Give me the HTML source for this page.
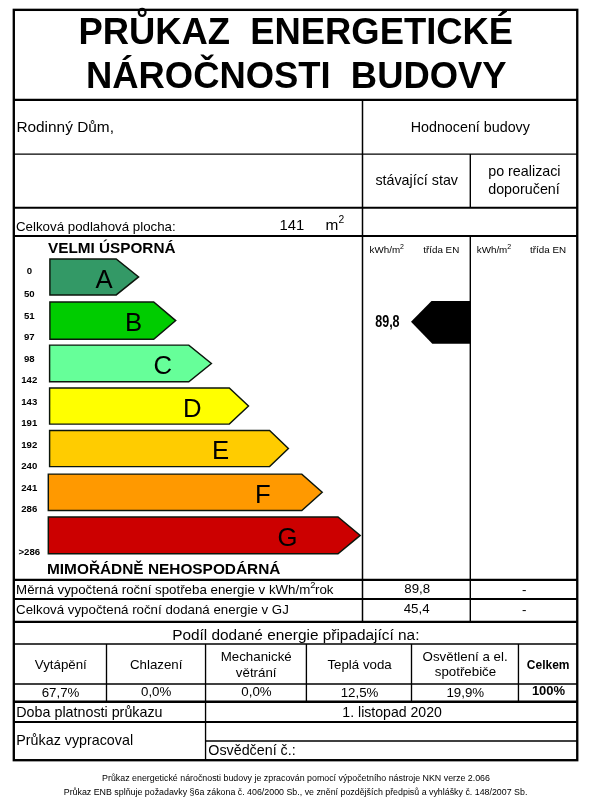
<!DOCTYPE html>
<html lang="cs">
<head>
<meta charset="utf-8">
<title>Průkaz energetické náročnosti budovy</title>
<style>
html,body{margin:0;padding:0;background:#fff;}
body{width:601px;height:800px;overflow:hidden;}
svg{display:block;}
text{font-family:"Liberation Sans",Arial,sans-serif;fill:#000;white-space:pre;}
.b{font-weight:bold;}
.t10{font-size:13.3px;}
.t11{font-size:14.3px;}
.t12{font-size:15.4px;}
.t8{font-size:9.8px;}
.lab{font-size:9.6px;font-weight:bold;text-anchor:middle;}
.let{font-size:25.7px;text-anchor:middle;}
.m{text-anchor:middle;}
.ln line{stroke:#000;}
.ar polygon{stroke:#0c160c;stroke-width:1.45;stroke-linejoin:miter;}
</style>
</head>
<body>
<svg width="601" height="800" viewBox="0 0 601 800">
<rect x="0" y="0" width="601" height="800" fill="#fff"/>

<!-- title -->
<text class="b m" x="295.75" y="44.4" font-size="36.4">PRŮKAZ  ENERGETICKÉ</text>
<text class="b m" x="296.3" y="88.2" font-size="36.4">NÁROČNOSTI  BUDOVY</text>

<!-- grid lines -->
<g class="ln">
<rect x="13.8" y="9.85" width="563.45" height="750.35" fill="none" stroke="#000" stroke-width="2.35"/>
<line x1="13.9" x2="577.3" y1="99.85" y2="99.85" stroke-width="2.2"/>
<line x1="13.9" x2="577.3" y1="154.05" y2="154.05" stroke-width="1.3"/>
<line x1="13.9" x2="577.3" y1="207.8" y2="207.8" stroke-width="2.1"/>
<line x1="13.9" x2="577.3" y1="236" y2="236" stroke-width="2.2"/>
<line x1="13.9" x2="577.3" y1="579.9" y2="579.9" stroke-width="2.3"/>
<line x1="13.9" x2="577.3" y1="599" y2="599" stroke-width="2.1"/>
<line x1="13.9" x2="577.3" y1="621.8" y2="621.8" stroke-width="2.3"/>
<line x1="13.9" x2="577.3" y1="644.05" y2="644.05" stroke-width="1.5"/>
<line x1="13.9" x2="577.3" y1="684.05" y2="684.05" stroke-width="1.5"/>
<line x1="13.9" x2="577.3" y1="701.75" y2="701.75" stroke-width="2.5"/>
<line x1="13.9" x2="577.3" y1="722" y2="722" stroke-width="1.9"/>
<line x1="205.5" x2="577.3" y1="741" y2="741" stroke-width="1.5"/>
<line x1="362.5" x2="362.5" y1="99.9" y2="621.8" stroke-width="1.5"/>
<line x1="470.3" x2="470.3" y1="154.05" y2="207.8" stroke-width="1.4"/>
<line x1="470.3" x2="470.3" y1="235.9" y2="621.8" stroke-width="1.4"/>
<line x1="106.5" x2="106.5" y1="644.05" y2="701.75" stroke-width="1.35"/>
<line x1="205.55" x2="205.55" y1="644.05" y2="760.2" stroke-width="1.35"/>
<line x1="306.4" x2="306.4" y1="644.05" y2="701.75" stroke-width="1.35"/>
<line x1="411.5" x2="411.5" y1="644.05" y2="701.75" stroke-width="1.35"/>
<line x1="518.45" x2="518.45" y1="644.05" y2="701.75" stroke-width="1.35"/>
</g>

<!-- header texts -->
<text x="16.4" y="131.7" font-size="15.4">Rodinný Dům,</text>
<text class="t11 m" x="470.3" y="131.7">Hodnocení budovy</text>
<text class="t11 m" x="416.7" y="185.3">stávající stav</text>
<text class="t11 m" x="524.4" y="176.2">po realizaci</text>
<text class="t11 m" x="524" y="193.5">doporučení</text>
<text class="t10" x="16.0" y="231.1">Celková podlahová plocha:</text>
<text x="279.6" y="229.7" font-size="14.8">141</text>
<text class="t12" x="325.6" y="229.7">m<tspan font-size="10.3" dy="-6.4">2</tspan></text>

<text class="b" x="48" y="253.3" font-size="15.3">VELMI ÚSPORNÁ</text>
<text class="t8" x="369.6" y="252.8">kWh/m<tspan font-size="7" dy="-4">2</tspan></text>
<text class="t8" x="423.3" y="252.8">třída EN</text>
<text class="t8" x="476.8" y="252.8">kWh/m<tspan font-size="7" dy="-4">2</tspan></text>
<text class="t8" x="530.1" y="252.8">třída EN</text>

<!-- scale labels -->
<text class="lab" x="29.3" y="274">0</text>
<text class="lab" x="29.3" y="297.3">50</text>
<text class="lab" x="29.3" y="319">51</text>
<text class="lab" x="29.3" y="340.3">97</text>
<text class="lab" x="29.3" y="361.7">98</text>
<text class="lab" x="29.3" y="383.3">142</text>
<text class="lab" x="29.3" y="405">143</text>
<text class="lab" x="29.3" y="426.2">191</text>
<text class="lab" x="29.3" y="447.8">192</text>
<text class="lab" x="29.3" y="469.3">240</text>
<text class="lab" x="29.3" y="491">241</text>
<text class="lab" x="29.3" y="512.4">286</text>
<text class="lab" x="29.3" y="555.2">&gt;286</text>

<!-- arrows -->
<g class="ar">
<polygon fill="#339966" points="49.9,258.9 116.2,258.9 138.6,276.9 116.2,294.9 49.9,294.9"/>
<polygon fill="#00cc00" points="49.9,302 153.7,302 175.7,320.6 153.7,339.3 49.9,339.3"/>
<polygon fill="#66ff99" points="49.6,345.1 188.8,345.1 211.4,363.5 188.8,381.8 49.6,381.8"/>
<polygon fill="#ffff00" points="49.6,387.9 229.3,387.9 248.5,406 229.3,424.1 49.6,424.1"/>
<polygon fill="#ffcc00" points="49.6,430.4 269.6,430.4 288.4,448.4 269.6,466.6 49.6,466.6"/>
<polygon fill="#ff9900" points="48.3,474.1 301.8,474.1 322.2,492.3 301.8,510.5 48.3,510.5"/>
<polygon fill="#cc0000" points="48.3,517 338,517 360.2,535.4 338,553.7 48.3,553.7"/>
</g>
<text class="let" x="104" y="288">A</text>
<text class="let" x="133.6" y="331">B</text>
<text class="let" x="162.9" y="373.7">C</text>
<text class="let" x="192.3" y="416.7">D</text>
<text class="let" x="220.5" y="459.3">E</text>
<text class="let" x="262.9" y="502.6">F</text>
<text class="let" x="287.6" y="546.2">G</text>

<!-- rating pointer -->
<polygon fill="#000" points="470.3,301 431.5,301 411,321.8 432.3,343.7 470.3,343.7"/>
<text class="b" x="375.2" y="327.3" font-size="16.6" textLength="24.4" lengthAdjust="spacingAndGlyphs">89,8</text>

<text class="b" x="47.0" y="574.2" font-size="15.4">MIMOŘÁDNĚ NEHOSPODÁRNÁ</text>

<!-- result rows -->
<text class="t10" x="16.1" y="594.4">Měrná vypočtená roční spotřeba energie v kWh/m<tspan font-size="9.3" dy="-6.3">2</tspan><tspan dy="6.3" dx="-0.4">rok</tspan></text>
<text class="t10" x="16.1" y="613.5">Celková vypočtená roční dodaná energie v GJ</text>
<text class="t10 m" x="417.2" y="592.5">89,8</text>
<text class="t10 m" x="416.6" y="613.2">45,4</text>
<text class="t10 m" x="524.2" y="593.5">-</text>
<text class="t10 m" x="524.2" y="614">-</text>

<text class="t12 m" x="295.8" y="640">Podíl dodané energie připadající na:</text>

<!-- share table -->
<text class="t10 m" x="60.8" y="668.6">Vytápění</text>
<text class="t10 m" x="156.2" y="668.6">Chlazení</text>
<text class="t10 m" x="256.2" y="660.6">Mechanické</text>
<text class="t10 m" x="256.2" y="676.6">větrání</text>
<text class="t10 m" x="359.6" y="668.6">Teplá voda</text>
<text class="t10 m" x="465.1" y="660.6">Osvětlení a el.</text>
<text class="t10 m" x="465.5" y="675.8">spotřebiče</text>
<text class="b m" x="548.2" y="668.6" font-size="12">Celkem</text>

<text class="t10 m" x="60.5" y="696.9">67,7%</text>
<text class="t10 m" x="156.2" y="695.9">0,0%</text>
<text class="t10 m" x="256.5" y="695.8">0,0%</text>
<text class="t10 m" x="359.5" y="696.9">12,5%</text>
<text class="t10 m" x="465.3" y="696.9">19,9%</text>
<text class="b m" x="548.5" y="694.9" font-size="13">100%</text>

<text class="t11" x="16.3" y="716.9">Doba platnosti průkazu</text>
<text class="m" x="392.1" y="716.8" font-size="14.1">1. listopad 2020</text>
<text class="t11" x="16.3" y="745.2">Průkaz vypracoval</text>
<text class="t11" x="208.3" y="755.2">Osvědčení č.:</text>

<!-- footer -->
<text class="m" x="296" y="781.2" font-size="8.85">Průkaz energetické náročnosti budovy je zpracován pomocí výpočetního nástroje NKN verze 2.066</text>
<text class="m" x="295.55" y="794.9" font-size="8.85">Průkaz ENB splňuje požadavky §6a zákona č. 406/2000 Sb., ve znění pozdějších předpisů a vyhlášky č. 148/2007 Sb.</text>
</svg>
</body>
</html>
